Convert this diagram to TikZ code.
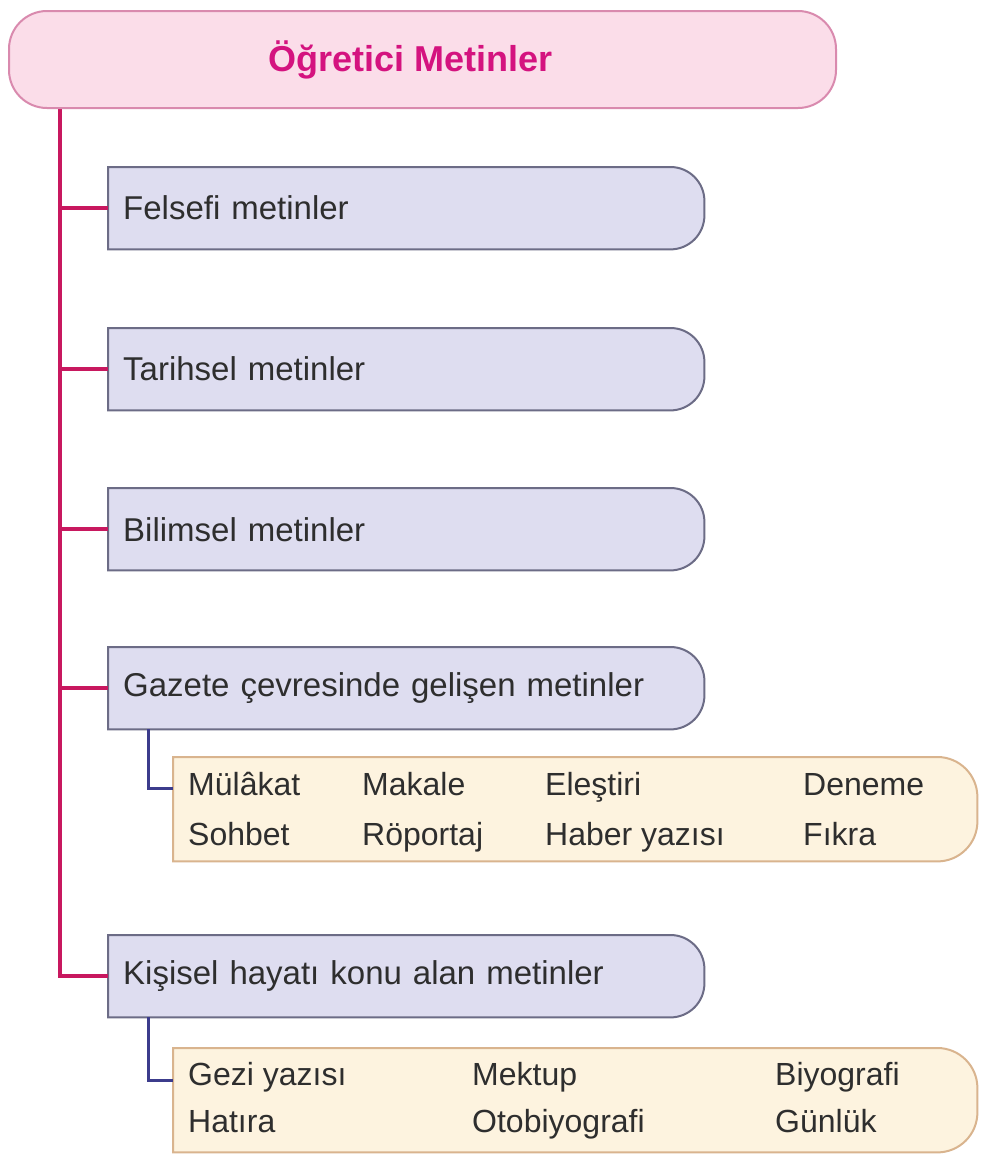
\documentclass[tikz,border=0pt]{standalone}
\usepackage{fontspec}
\setmainfont{Liberation Sans}
\usetikzlibrary{backgrounds}
\definecolor{titlefill}{HTML}{FBDDE9}
\definecolor{titledraw}{HTML}{D98AAE}
\definecolor{titletext}{HTML}{D4137F}
\definecolor{trunkcol}{HTML}{C8185F}
\definecolor{catfill}{HTML}{DEDDF0}
\definecolor{catdraw}{HTML}{6C6C86}
\definecolor{sublinecol}{HTML}{3C3C8C}
\definecolor{subfill}{HTML}{FDF3DF}
\definecolor{subdraw}{HTML}{D9B48E}
\definecolor{txt}{HTML}{2E2E2E}
\newcommand{\rightround}[3]{%
  \path[#3] (#1.south west) -- (#1.north west) -- ([xshift=-#2]#1.north east)
    arc[start angle=90,end angle=0,radius=#2] -- ([yshift=#2]#1.south east)
    arc[start angle=0,end angle=-90,radius=#2] -- cycle;}
\tikzset{
  titlebox/.style={anchor=north west, minimum width=827pt, minimum height=97pt,
    rounded corners=38pt, draw=titledraw, fill=titlefill, line width=2pt,
    text=titletext, font=\fontsize{36}{42}\selectfont\bfseries, inner sep=0pt},
  catbox/.style={anchor=north west, text width=566pt, inner xsep=15pt, inner ysep=0pt,
    minimum height=82pt, align=left, text=txt, font=\fontsize{33}{40}\selectfont},
  catshape/.style={fill=catfill, draw=catdraw, line width=2pt},
  subbox/.style={anchor=north west, minimum width=804pt, minimum height=104pt, inner sep=0pt},
  subshape/.style={fill=subfill, draw=subdraw, line width=2pt},
  subtxt/.style={anchor=base west, inner sep=0pt, text=txt, font=\fontsize{32}{38}\selectfont},
  trunkline/.style={draw=trunkcol, line width=4pt},
  subconn/.style={draw=sublinecol, line width=3pt},
}
\begin{document}
\begin{tikzpicture}[x=1pt,y=-1pt]
\path[use as bounding box] (0,0) rectangle (989,1154);

\node[titlebox] (title) at (8,10) {\hspace*{-24pt}Öğretici Metinler};

\node[catbox] (felsefi) at (108,167) {Felsefi metinler};
\node[catbox] (tarihsel) at (108,328) {Tarihsel metinler};
\node[catbox] (bilimsel) at (108,488) {Bilimsel metinler};
\node[catbox] (gazete) at (108,647) {Gazete çevresinde gelişen metinler};
\node[catbox] (kisisel) at (108,935) {Kişisel hayatı konu alan metinler};

\node[subbox] (gsub) at (173,757) {};
\node[subbox] (ksub) at (173,1048) {};

\node[subtxt] (g11) at (188,795) {Mülâkat};
\node[subtxt] (g12) at (362,795) {Makale};
\node[subtxt] (g13) at (545,795) {Eleştiri};
\node[subtxt] (g14) at (803,795) {Deneme};
\node[subtxt] (g21) at (188,845) {Sohbet};
\node[subtxt] (g22) at (362,845) {Röportaj};
\node[subtxt] (g23) at (545,845) {Haber yazısı};
\node[subtxt] (g24) at (803,845) {Fıkra};

\node[subtxt] (k11) at (188,1085) {Gezi yazısı};
\node[subtxt] (k12) at (472,1085) {Mektup};
\node[subtxt] (k13) at (775,1085) {Biyografi};
\node[subtxt] (k21) at (188,1132) {Hatıra};
\node[subtxt] (k22) at (472,1132) {Otobiyografi};
\node[subtxt] (k23) at (775,1132) {Günlük};

\begin{scope}[on background layer]
  \path[fill=white] (0,0) rectangle (989,1154);
  \foreach \n in {felsefi,tarihsel,bilimsel,gazete,kisisel}{\rightround{\n}{34pt}{catshape}}
  \rightround{gsub}{40pt}{subshape}
  \rightround{ksub}{40pt}{subshape}
  \coordinate (trunktop) at ([xshift=52pt]title.south west);
  \draw[trunkline] (trunktop) |- (kisisel.west);
  \foreach \n in {felsefi,tarihsel,bilimsel,gazete}{\draw[trunkline] (trunktop |- \n.west) -- (\n.west);}
  \draw[subconn] ([xshift=40pt]gazete.south west) |- ([yshift=-31pt]gsub.north west);
  \draw[subconn] ([xshift=40pt]kisisel.south west) |- ([yshift=-32pt]ksub.north west);
\end{scope}
\end{tikzpicture}
\end{document}
